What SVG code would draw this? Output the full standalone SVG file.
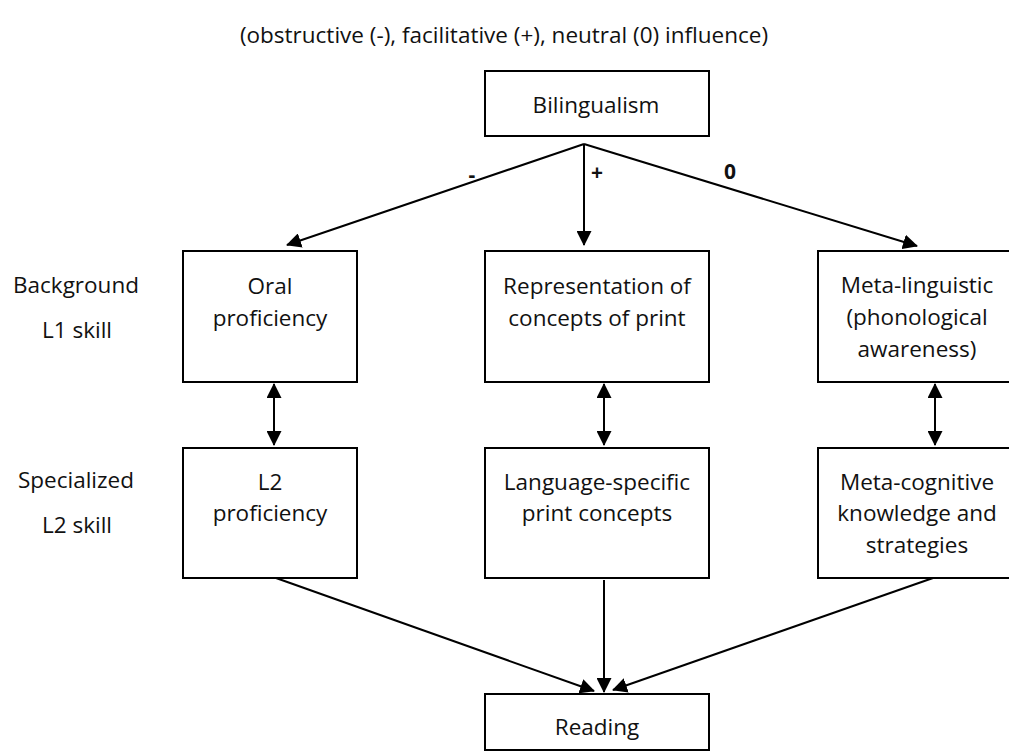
<svg xmlns="http://www.w3.org/2000/svg" width="1009" height="754" viewBox="0 0 1009 754">
<style>
text{font-family:"Open Sans","Liberation Sans",sans-serif;fill:#111;text-anchor:middle}
.t{font-size:22.5px}
.title{font-size:22.5px}
.lab{font-size:21px;font-weight:bold}
.box{fill:#fff;stroke:#000;stroke-width:2}
.c{stroke:#000;stroke-width:2;fill:none}
</style>
<defs>
<marker id="ah" markerUnits="userSpaceOnUse" markerWidth="15" markerHeight="15" refX="14" refY="7.5" orient="auto-start-reverse">
<path d="M0,0 L15,7.5 L0,15 z" fill="#000"/>
</marker>
</defs>
<rect width="1009" height="754" fill="#fff"/>
<text class="title" x="504" y="43">(obstructive (-), facilitative (+), neutral (0) influence)</text>
<g id="side-labels">
<text class="t" x="76" y="293">Background</text>
<text class="t" x="77" y="338">L1 skill</text>
<text class="t" x="76" y="488">Specialized</text>
<text class="t" x="77" y="533">L2 skill</text>
</g>
<g id="connectors">
<line class="c" x1="584" y1="144" x2="287" y2="245" marker-end="url(#ah)"/>
<line class="c" x1="584" y1="144" x2="584" y2="245" marker-end="url(#ah)"/>
<line class="c" x1="584" y1="144" x2="917" y2="246" marker-end="url(#ah)"/>
<line class="c" x1="274" y1="384" x2="274" y2="445" marker-start="url(#ah)" marker-end="url(#ah)"/>
<line class="c" x1="604" y1="384" x2="604" y2="445" marker-start="url(#ah)" marker-end="url(#ah)"/>
<line class="c" x1="935" y1="384" x2="935" y2="445" marker-start="url(#ah)" marker-end="url(#ah)"/>
<line class="c" x1="276" y1="578" x2="594" y2="691" marker-end="url(#ah)"/>
<line class="c" x1="604" y1="580" x2="604" y2="692" marker-end="url(#ah)"/>
<line class="c" x1="933" y1="578" x2="613" y2="690" marker-end="url(#ah)"/>
<text class="lab" x="472" y="182">-</text>
<text class="lab" x="597" y="180">+</text>
<text class="lab" x="730" y="179">0</text>
</g>
<g id="bilingualism">
<rect class="box" x="485" y="71" width="224" height="65"/>
<text class="t" x="596" y="113">Bilingualism</text>
</g>
<g id="oral">
<rect class="box" x="183" y="251" width="174" height="131"/>
<text class="t" x="270" y="294">Oral</text>
<text class="t" x="270" y="326">proficiency</text>
</g>
<g id="representation">
<rect class="box" x="485" y="251" width="224" height="131"/>
<text class="t" x="597" y="294">Representation of</text>
<text class="t" x="597" y="326">concepts of print</text>
</g>
<g id="metalinguistic">
<rect class="box" x="818" y="251" width="220" height="131"/>
<text class="t" x="917" y="293">Meta-linguistic</text>
<text class="t" x="917" y="325">(phonological</text>
<text class="t" x="917" y="357">awareness)</text>
</g>
<g id="l2">
<rect class="box" x="183" y="448" width="174" height="130"/>
<text class="t" x="270" y="490">L2</text>
<text class="t" x="270" y="521">proficiency</text>
</g>
<g id="language-specific">
<rect class="box" x="485" y="448" width="224" height="130"/>
<text class="t" x="597" y="490">Language-specific</text>
<text class="t" x="597" y="521">print concepts</text>
</g>
<g id="metacognitive">
<rect class="box" x="818" y="448" width="220" height="130"/>
<text class="t" x="917" y="490">Meta-cognitive</text>
<text class="t" x="917" y="521">knowledge and</text>
<text class="t" x="917" y="553">strategies</text>
</g>
<g id="reading">
<rect class="box" x="485" y="694" width="224" height="56"/>
<text class="t" x="597" y="735">Reading</text>
</g>
</svg>
